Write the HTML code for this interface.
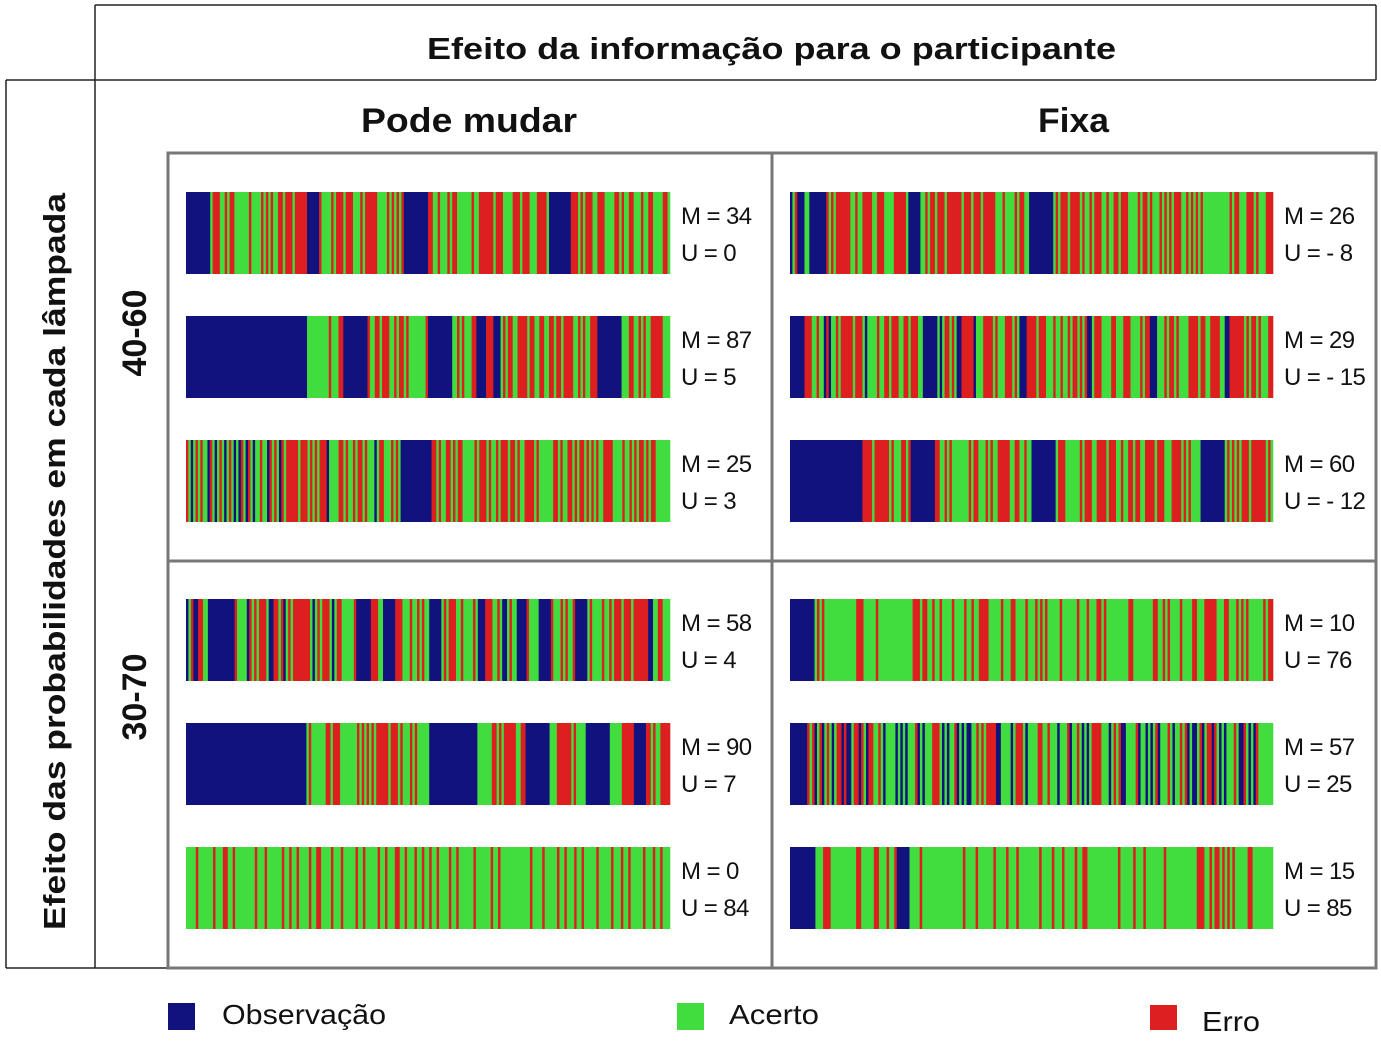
<!DOCTYPE html>
<html><head><meta charset="utf-8"><style>
body{margin:0;background:#fff;}
svg{display:block;}
text{font-family:"Liberation Sans",sans-serif;fill:#111;}
.b{font-weight:bold;}
.lab{font-size:24px;letter-spacing:-0.6px;}
</style></head><body>
<svg id="chart" width="1381" height="1041" viewBox="0 0 1381 1041" xmlns="http://www.w3.org/2000/svg">
<g fill="none" stroke="#222" stroke-width="1.5">
<line x1="95" y1="5" x2="1376" y2="5"/>
<line x1="95" y1="5" x2="95" y2="968"/>
<line x1="1376" y1="5" x2="1376" y2="80"/>
<line x1="6" y1="80" x2="1376" y2="80"/>
<line x1="6" y1="80" x2="6" y2="968"/>
<line x1="6" y1="968" x2="168" y2="968"/>
</g>
<text class="b" x="427" y="59" font-size="31" textLength="689" lengthAdjust="spacingAndGlyphs">Efeito da informação para o participante</text>
<text class="b" font-size="31" textLength="737" lengthAdjust="spacingAndGlyphs" transform="translate(65,930) rotate(-90)">Efeito das probabilidades em cada lâmpada</text>
<text class="b" x="361" y="132" font-size="34" textLength="216" lengthAdjust="spacingAndGlyphs">Pode mudar</text>
<text class="b" x="1038" y="132" font-size="34" textLength="71" lengthAdjust="spacingAndGlyphs">Fixa</text>
<text class="b" font-size="34" text-anchor="middle" transform="translate(146,333) rotate(-90)">40-60</text>
<text class="b" font-size="34" text-anchor="middle" transform="translate(146,697) rotate(-90)">30-70</text>
<g fill="none" stroke="#777" stroke-width="3">
<rect x="168" y="153" width="1208" height="815"/>
<line x1="772" y1="153" x2="772" y2="968"/>
<line x1="168" y1="561" x2="1376" y2="561"/>
</g>
<g id="strips"></g>
<g>
<rect x="168" y="1003" width="27" height="27" fill="#11127d"/>
<text x="222" y="1024" font-size="28" textLength="164" lengthAdjust="spacingAndGlyphs">Observação</text>
<rect x="677" y="1003" width="27" height="27" fill="#41dc3e"/>
<text x="729" y="1024" font-size="28" textLength="90" lengthAdjust="spacingAndGlyphs">Acerto</text>
<rect x="1150" y="1005" width="27" height="25" fill="#dd1f20"/>
<text x="1202" y="1031" font-size="28" textLength="58" lengthAdjust="spacingAndGlyphs">Erro</text>
</g>
</svg>
<script>
// Run-length sequences: O = Observação, A = Acerto, E = Erro
const seqL1 = "O10 A1 E3 A2 E1 A1 E2 A6 E1 A4 E1 A1 E1 A1 E1 A2 E2 A1 E3 A1 E5 O5 E1 A4 E1 A1 E3 A1 E3 A3 E1 A1 E5 A4 E1 A1 E1 A1 E1 A1 E1 O10 E2 A2 E1 A3 E1 A1 E2 A6 E1 A2 E6 A1 E3 A4 E3 A1 E3 A3 E4 A1 O9 E3 A1 E1 A1 E3 A2 E3 A4 E2 A1 E1 A2 E2 A3 E1 A2 E2 A4 E2 A1";
const seqL2 = "O50 A9 E1 A3 E2 O10 E1 A2 E2 A1 E3 A2 E1 A1 E2 A1 E1 A7 E1 O10 A2 E1 A1 E1 A3 E2 O4 E3 O3 A1 E1 A1 E2 A2 E4 A1 E2 A2 E2 A2 E2 A1 E2 A1 E4 A2 E1 A1 E1 A2 E3 O10 A3 E2 A2 E1 A1 E1 A2 E5 A3";
const seqL3 = "E1 A1 O1 A1 E1 A1 E1 A2 O1 E1 A1 O1 A1 E1 A1 O1 A1 E1 A1 O1 A1 O1 E1 A1 O1 E1 A1 O1 A2 E1 A2 O1 E1 A1 E1 A1 O1 E1 A1 E1 E4 A1 E3 A1 E1 A1 E1 A1 E3 O1 A4 E2 A1 E1 A2 E1 A1 E2 A1 E1 A3 O1 A1 E2 A3 E1 A1 E1 A1 O13 E2 A1 E1 A2 E2 A1 E1 A1 E2 A5 E1 A1 E3 A1 E1 A2 E1 A1 E3 A1 E2 A1 E1 A2 E4 A1 E1 A6 E2 A1 E1 A2 E2 A1 E1 A1 E2 A1 E1 A1 E1 A1 E1 A2 E4 A4 E1 A2 E1 A1 E1 A1 E2 A1 E1 A1 E2 A6";
const seqR1 = "O1 A1 E1 O3 A2 O7 E1 A1 E1 A1 E1 E5 A2 E1 A2 E4 A2 E3 A4 E5 A1 O5 A2 E1 A1 E2 A1 E3 A1 E6 A1 E3 A1 E3 A1 E5 A3 E1 A4 E1 A1 E2 A2 O10 A1 E1 A1 E3 A1 E4 A1 E1 A2 E1 A1 E3 A2 E1 A2 E2 A1 E3 A4 E1 A1 E2 A1 E1 A3 E1 A1 E1 A1 E1 A1 E3 A2 E1 A1 E1 A1 E1 A1 E1 A11 E1 A1 E2 A3 E3 A1 E1 A3 E3";
const seqR2 = "O6 E3 A2 E1 A2 O1 E1 O1 A2 E1 A1 E5 A1 E3 A1 O1 A4 E1 A2 E2 A1 E3 A2 E2 A1 E3 A2 O6 A1 O1 A1 E2 A1 E1 A1 O2 E5 O1 A3 E4 A1 E1 A3 E3 A1 E1 A1 O3 E4 A1 E3 A3 E1 A2 E1 A2 E1 A1 E2 A1 E1 A1 E1 O2 A1 E3 A4 E2 A3 E3 A4 E1 A1 E2 O3 A3 E1 A1 E2 A1 E1 A4 E4 A1 E2 A2 E4 A2 O2 E6 A1 E1 A1 E2 A1 E1 A3 E2";
const seqR3 = "O30 E4 A1 E6 A1 E1 A3 E2 A1 E1 O10 E2 A2 E1 A1 E1 A7 E1 A1 E2 A3 E1 A1 E1 A2 E5 A2 E2 A2 E1 A2 O10 A1 E3 A6 E1 A1 E3 A2 E4 A1 E3 A2 E1 A2 E2 A1 E2 A2 E4 A1 E3 A3 E4 A1 E1 A1 E1 A4 O10 A1 E1 A1 E1 A1 E1 A1 E3 A1 E6 A1 E1 A1";
const seqL4 = "O1 A1 E1 O2 E2 A2 O11 E1 A4 O1 E1 A1 E1 A1 E3 A1 O2 E2 A1 E1 O1 A1 E1 A1 E7 A1 O1 A1 E1 A1 E3 A1 O1 A1 E2 A5 E1 O6 E3 A2 O5 E3 A3 E1 A2 E1 A1 E1 A2 O5 A1 E1 A1 E3 A2 E1 A4 E1 A1 O3 E3 A2 E1 A1 O2 A1 E1 A2 O4 E1 A4 O5 E1 A3 E1 A1 E1 A2 E1 O5 A1 E1 A4 E1 A2 E1 A1 E3 A1 E3 A1 E6 O2 A2 E2 A3";
const seqL5 = "O50 A1 E1 A6 E2 A1 E3 A7 E1 A1 E1 A1 E1 A1 E1 A1 E5 A1 E3 A1 E1 A3 E1 A1 E1 A5 O20 A6 E2 A1 E1 A1 E5 A2 E2 O10 A3 E6 A1 E1 A4 O10 A5 E5 O5 E2 A1 E1 A2 E4";
const seqL6 = "A4 E1 A6 E1 A3 E2 A2 E1 A8 E1 A3 E1 A6 E1 A2 E1 A2 E1 A4 E1 A2 E2 A4 E1 A3 E1 A5 E1 A2 E1 A5 E1 A2 E1 A3 E2 A2 E1 A3 E1 A2 E1 A2 E1 A2 E1 A4 E1 A2 E1 A6 E1 A6 E1 A2 E1 A12 E1 A4 E1 A5 E1 A2 E1 A3 E1 A2 E1 A5 E1 A5 E1 A3 E1 A2 E1 A5 E1 A3 E1 A2 E1 A3";
const seqR4 = "O10 A1 E1 A1 E1 A2 A11 E3 A5 E1 A14 E3 A1 E2 A2 E1 A2 E1 A4 E1 A4 E1 A2 E1 A2 E4 A1 A4 E1 A3 E2 A4 E1 A3 E1 A1 E1 A1 E1 A5 E1 A6 E1 A3 E1 A3 E2 A1 E1 A9 E2 A8 E2 A2 E1 A1 E1 A4 E1 A4 E2 A3 E5 A3 E2 A3 E1 A1 E1 A1 E1 A6 E1 A1 E2";
const seqR5 = "O7 E1 A1 E1 O1 A1 E1 O1 A1 E1 A1 O1 A1 E2 O1 E1 O2 A1 E2 O1 E1 A1 O1 E2 A2 E1 A1 O1 A4 O1 A1 O1 A1 O1 A3 E1 O1 A1 O1 A3 E3 A1 O1 A1 O1 A2 E1 O1 A1 O1 A1 O2 A2 E1 A1 E1 A1 E4 O2 A4 O1 A1 E3 A1 O1 A4 E2 A2 E1 A3 O1 A3 E1 O1 A2 E1 A1 O1 A1 O1 A1 E4 A3 O1 A1 E1 A1 E1 O2 A4 E1 O1 A2 O1 A1 O1 A1 E1 O1 A3 E1 A1 O1 A2 E1 A1 E1 O1 A1 O2 A1 E1 O1 A1 E2 O1 E1 A1 O1 A1 O1 A3 E1 A1 O2 E1 A1 O1 A1 O1 E1 A6";
const seqR6 = "O10 A3 E3 A10 E2 A5 E2 A3 E1 A2 E1 O5 A4 E1 A16 E1 A4 E1 A6 E1 A4 E1 A3 E1 A8 E1 A4 E1 A3 E1 A4 E1 A2 E2 A12 E1 A5 E1 A3 E1 A7 E1 A12 E3 A2 E1 A1 E2 A1 E1 A1 E1 A1 E1 A5 E2 A8";
const stripSeqs = [seqL1, seqL2, seqL3, seqR1, seqR2, seqR3, seqL4, seqL5, seqL6, seqR4, seqR5, seqR6];
const mValues = [34, 87, 25, 26, 29, 60, 58, 90, 0, 10, 57, 15];
const uValues = [0, 5, 3, -8, -15, -12, 4, 7, 84, 76, 25, 85];

const colors = {O: "#11127d", A: "#41dc3e", E: "#dd1f20"};
const NS = "http://www.w3.org/2000/svg";
const g = document.getElementById("strips");
function parseSeq(s) {
  return s.trim().split(/\s+/).map(t => ({c: t[0], n: parseInt(t.slice(1), 10)}));
}
function fmtU(v) { return v < 0 ? "- " + Math.abs(v) : String(v); }
stripSeqs.forEach((seq, i) => {
  const panelCol = Math.floor(i / 3) % 2;
  const panelRow = Math.floor(i / 6);
  const k = i % 3;
  const x0 = panelCol === 0 ? 186 : 790;
  const w = panelCol === 0 ? 484 : 483;
  const y0 = (panelRow === 0 ? 192 : 599) + k * 124;
  const h = 82;
  const runs = parseSeq(seq);
  const total = runs.reduce((a, r) => a + r.n, 0);
  const xs = idx => x0 + idx / total * w;
  const grp = document.createElementNS(NS, "g");
  
  
  let idx = 0;
  runs.forEach(r => {
    if (r.n <= 0) return;
    const rect = document.createElementNS(NS, "rect");
    
    
    const a = xs(idx), b = xs(idx + r.n);
    rect.setAttribute("x", a.toFixed(2));
    rect.setAttribute("y", y0);
    rect.setAttribute("width", (b - a + 0.3).toFixed(2));
    rect.setAttribute("height", h);
    rect.setAttribute("fill", colors[r.c]);
    grp.appendChild(rect);
    idx += r.n;
  });
  g.appendChild(grp);
  const tx = x0 + w + 11;
  const t1 = document.createElementNS(NS, "text");
  
  
  t1.setAttribute("x", tx); t1.setAttribute("y", y0 + 32);
  t1.setAttribute("class", "lab");
  t1.textContent = "M = " + mValues[i];
  g.appendChild(t1);
  const t2 = document.createElementNS(NS, "text");
  
  
  t2.setAttribute("x", tx); t2.setAttribute("y", y0 + 69);
  t2.setAttribute("class", "lab");
  t2.textContent = "U = " + fmtU(uValues[i]);
  g.appendChild(t2);
});
</script>
</body></html>
